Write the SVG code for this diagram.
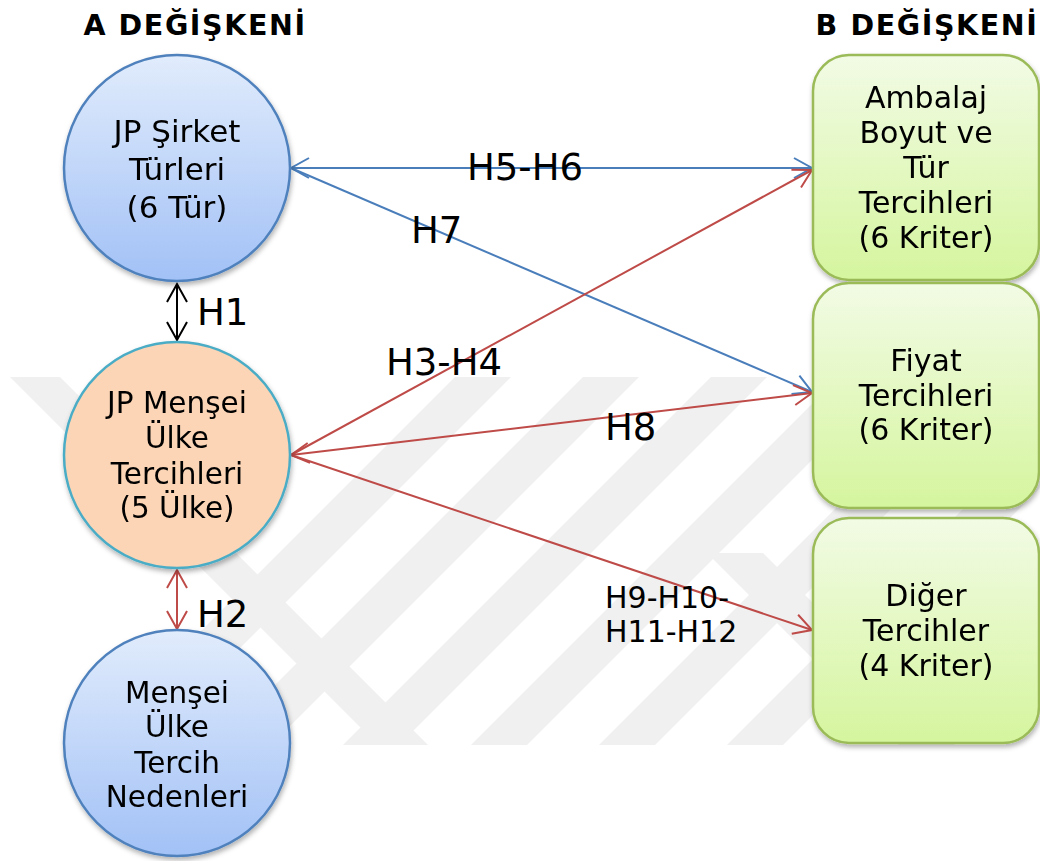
<svg xmlns="http://www.w3.org/2000/svg" width="1040" height="861" viewBox="0 0 1040 861">
<style>
  .t{font-family:"DejaVu Sans","Verdana",sans-serif;fill:#000;text-anchor:middle}
  .n29{font-size:29.5px}
  .n30{font-size:30px}
  .n31{font-size:31px}
  .title{font-size:28.5px;font-weight:bold;letter-spacing:1.6px}
  .lbl{font-family:"DejaVu Sans","Verdana",sans-serif;fill:#000;font-size:37px}
  .lbl2{font-family:"DejaVu Sans","Verdana",sans-serif;fill:#000;font-size:30px}
  .blue{stroke:#4a7ebb;stroke-width:2;fill:none}
  .red{stroke:#be4b48;stroke-width:2;fill:none}
  .black{stroke:#000;stroke-width:2;fill:none}
  .wm{fill:#f0f0f0}
  .bc{fill:url(#gBlue);stroke:#4f81bd;stroke-width:2.5}
  .pc{fill:#fbd5b5;stroke:#4bacc6;stroke-width:2.5}
  .gb{fill:url(#gGreen);stroke:#9bbb59;stroke-width:2.5}
</style>
<defs>
  <linearGradient id="gBlue" x1="0" y1="0" x2="0" y2="1">
    <stop offset="0" stop-color="#e1ecfc"/>
    <stop offset="1" stop-color="#a2c1f6"/>
  </linearGradient>
  <linearGradient id="gGreen" x1="0" y1="0" x2="0" y2="1">
    <stop offset="0" stop-color="#f2fbe5"/>
    <stop offset="1" stop-color="#d5f59e"/>
  </linearGradient>
  <filter id="sh" x="-10%" y="-10%" width="125%" height="125%">
    <feDropShadow dx="1" dy="3" stdDeviation="2.5" flood-color="#000" flood-opacity="0.3"/>
  </filter>
  <clipPath id="wmClip"><rect x="0" y="377" width="1040" height="368"/></clipPath>
  <marker id="mBlue" markerUnits="userSpaceOnUse" markerWidth="22" markerHeight="24" refX="19" refY="11" orient="auto-start-reverse" overflow="visible">
    <path d="M1,1 L19,11 L1,21" fill="none" stroke="#4a7ebb" stroke-width="2"/>
  </marker>
  <marker id="mRed" markerUnits="userSpaceOnUse" markerWidth="22" markerHeight="24" refX="19" refY="11" orient="auto-start-reverse" overflow="visible">
    <path d="M1,1 L19,11 L1,21" fill="none" stroke="#be4b48" stroke-width="2"/>
  </marker>
  <marker id="mBlack" markerUnits="userSpaceOnUse" markerWidth="22" markerHeight="24" refX="19" refY="11" orient="auto-start-reverse" overflow="visible">
    <path d="M1,1 L19,11 L1,21" fill="none" stroke="#000" stroke-width="2"/>
  </marker>
</defs>

<rect x="0" y="0" width="1040" height="861" fill="#fff"/>

<g id="watermark" clip-path="url(#wmClip)">
  <polygon class="wm" points="10,377 60,377 428,745 378,745"/>
  <polygon class="wm" points="455,377 511,377 143,745 87,745"/>
  <polygon class="wm" points="583,377 639,377 271,745 215,745"/>
  <polygon class="wm" points="711,377 767,377 399,745 343,745"/>
  <polygon class="wm" points="839,377 895,377 527,745 471,745"/>
  <polygon class="wm" points="967,377 1023,377 655,745 599,745"/>
  <polygon class="wm" points="1095,377 1151,377 783,745 727,745"/>
  <polygon class="wm" points="707,553 763,553 955,745 899,745"/>
</g>

<g id="titles">
  <text class="t title" x="195" y="35">A DEĞİŞKENİ</text>
  <text class="t title" x="927" y="35">B DEĞİŞKENİ</text>
</g>

<g id="connectors">
  <line class="blue" x1="291" y1="168" x2="812" y2="168" marker-start="url(#mBlue)" marker-end="url(#mBlue)"/>
  <line class="blue" x1="291" y1="168" x2="812" y2="392" marker-end="url(#mBlue)"/>
  <line class="red" x1="291" y1="455" x2="812" y2="170" marker-end="url(#mRed)"/>
  <line class="red" x1="291" y1="455" x2="812" y2="393" marker-start="url(#mRed)" marker-end="url(#mRed)"/>
  <line class="red" x1="291" y1="455" x2="812" y2="630" marker-end="url(#mRed)"/>
  <line class="black" x1="177" y1="284" x2="177" y2="340" marker-start="url(#mBlack)" marker-end="url(#mBlack)"/>
  <line class="red" x1="177" y1="570" x2="177" y2="629" marker-start="url(#mRed)" marker-end="url(#mRed)"/>
</g>

<g id="labels">
  <text class="lbl" x="467" y="180">H5-H6</text>
  <text class="lbl" x="411" y="243">H7</text>
  <text class="lbl" x="197" y="325">H1</text>
  <text class="lbl" x="386" y="375">H3-H4</text>
  <text class="lbl" x="605" y="440">H8</text>
  <text class="lbl" x="197" y="627">H2</text>
  <text class="lbl2" x="605" y="608">H9-H10-</text>
  <text class="lbl2" x="605" y="642">H11-H12</text>
</g>

<g id="node-jp-sirket" filter="url(#sh)">
  <circle class="bc" cx="177" cy="168" r="113"/>
  <text class="t n31" x="177" y="142">JP Şirket</text>
  <text class="t n31" x="177" y="180">Türleri</text>
  <text class="t n31" x="177" y="218">(6 Tür)</text>
</g>

<g id="node-jp-mensei" filter="url(#sh)">
  <circle class="pc" cx="177" cy="455" r="113"/>
  <text class="t n29" x="177" y="413">JP Menşei</text>
  <text class="t n29" x="177" y="448">Ülke</text>
  <text class="t n29" x="177" y="484">Tercihleri</text>
  <text class="t n29" x="177" y="518">(5 Ülke)</text>
</g>

<g id="node-mensei-neden" filter="url(#sh)">
  <circle class="bc" cx="177" cy="743" r="113"/>
  <text class="t n29" x="177" y="703">Menşei</text>
  <text class="t n29" x="177" y="737">Ülke</text>
  <text class="t n29" x="177" y="773">Tercih</text>
  <text class="t n29" x="177" y="807">Nedenleri</text>
</g>

<g id="node-ambalaj" filter="url(#sh)">
  <rect class="gb" x="813" y="55" width="226" height="225" rx="36"/>
  <text class="t n30" x="926" y="108">Ambalaj</text>
  <text class="t n30" x="926" y="143">Boyut ve</text>
  <text class="t n30" x="926" y="178">Tür</text>
  <text class="t n30" x="926" y="213">Tercihleri</text>
  <text class="t n30" x="926" y="248">(6 Kriter)</text>
</g>

<g id="node-fiyat" filter="url(#sh)">
  <rect class="gb" x="813" y="283" width="226" height="225" rx="36"/>
  <text class="t n30" x="926" y="371">Fiyat</text>
  <text class="t n30" x="926" y="406">Tercihleri</text>
  <text class="t n30" x="926" y="440">(6 Kriter)</text>
</g>

<g id="node-diger" filter="url(#sh)">
  <rect class="gb" x="813" y="518" width="226" height="225" rx="36"/>
  <text class="t n30" x="926" y="606">Diğer</text>
  <text class="t n30" x="926" y="641">Tercihler</text>
  <text class="t n30" x="926" y="676">(4 Kriter)</text>
</g>
</svg>
